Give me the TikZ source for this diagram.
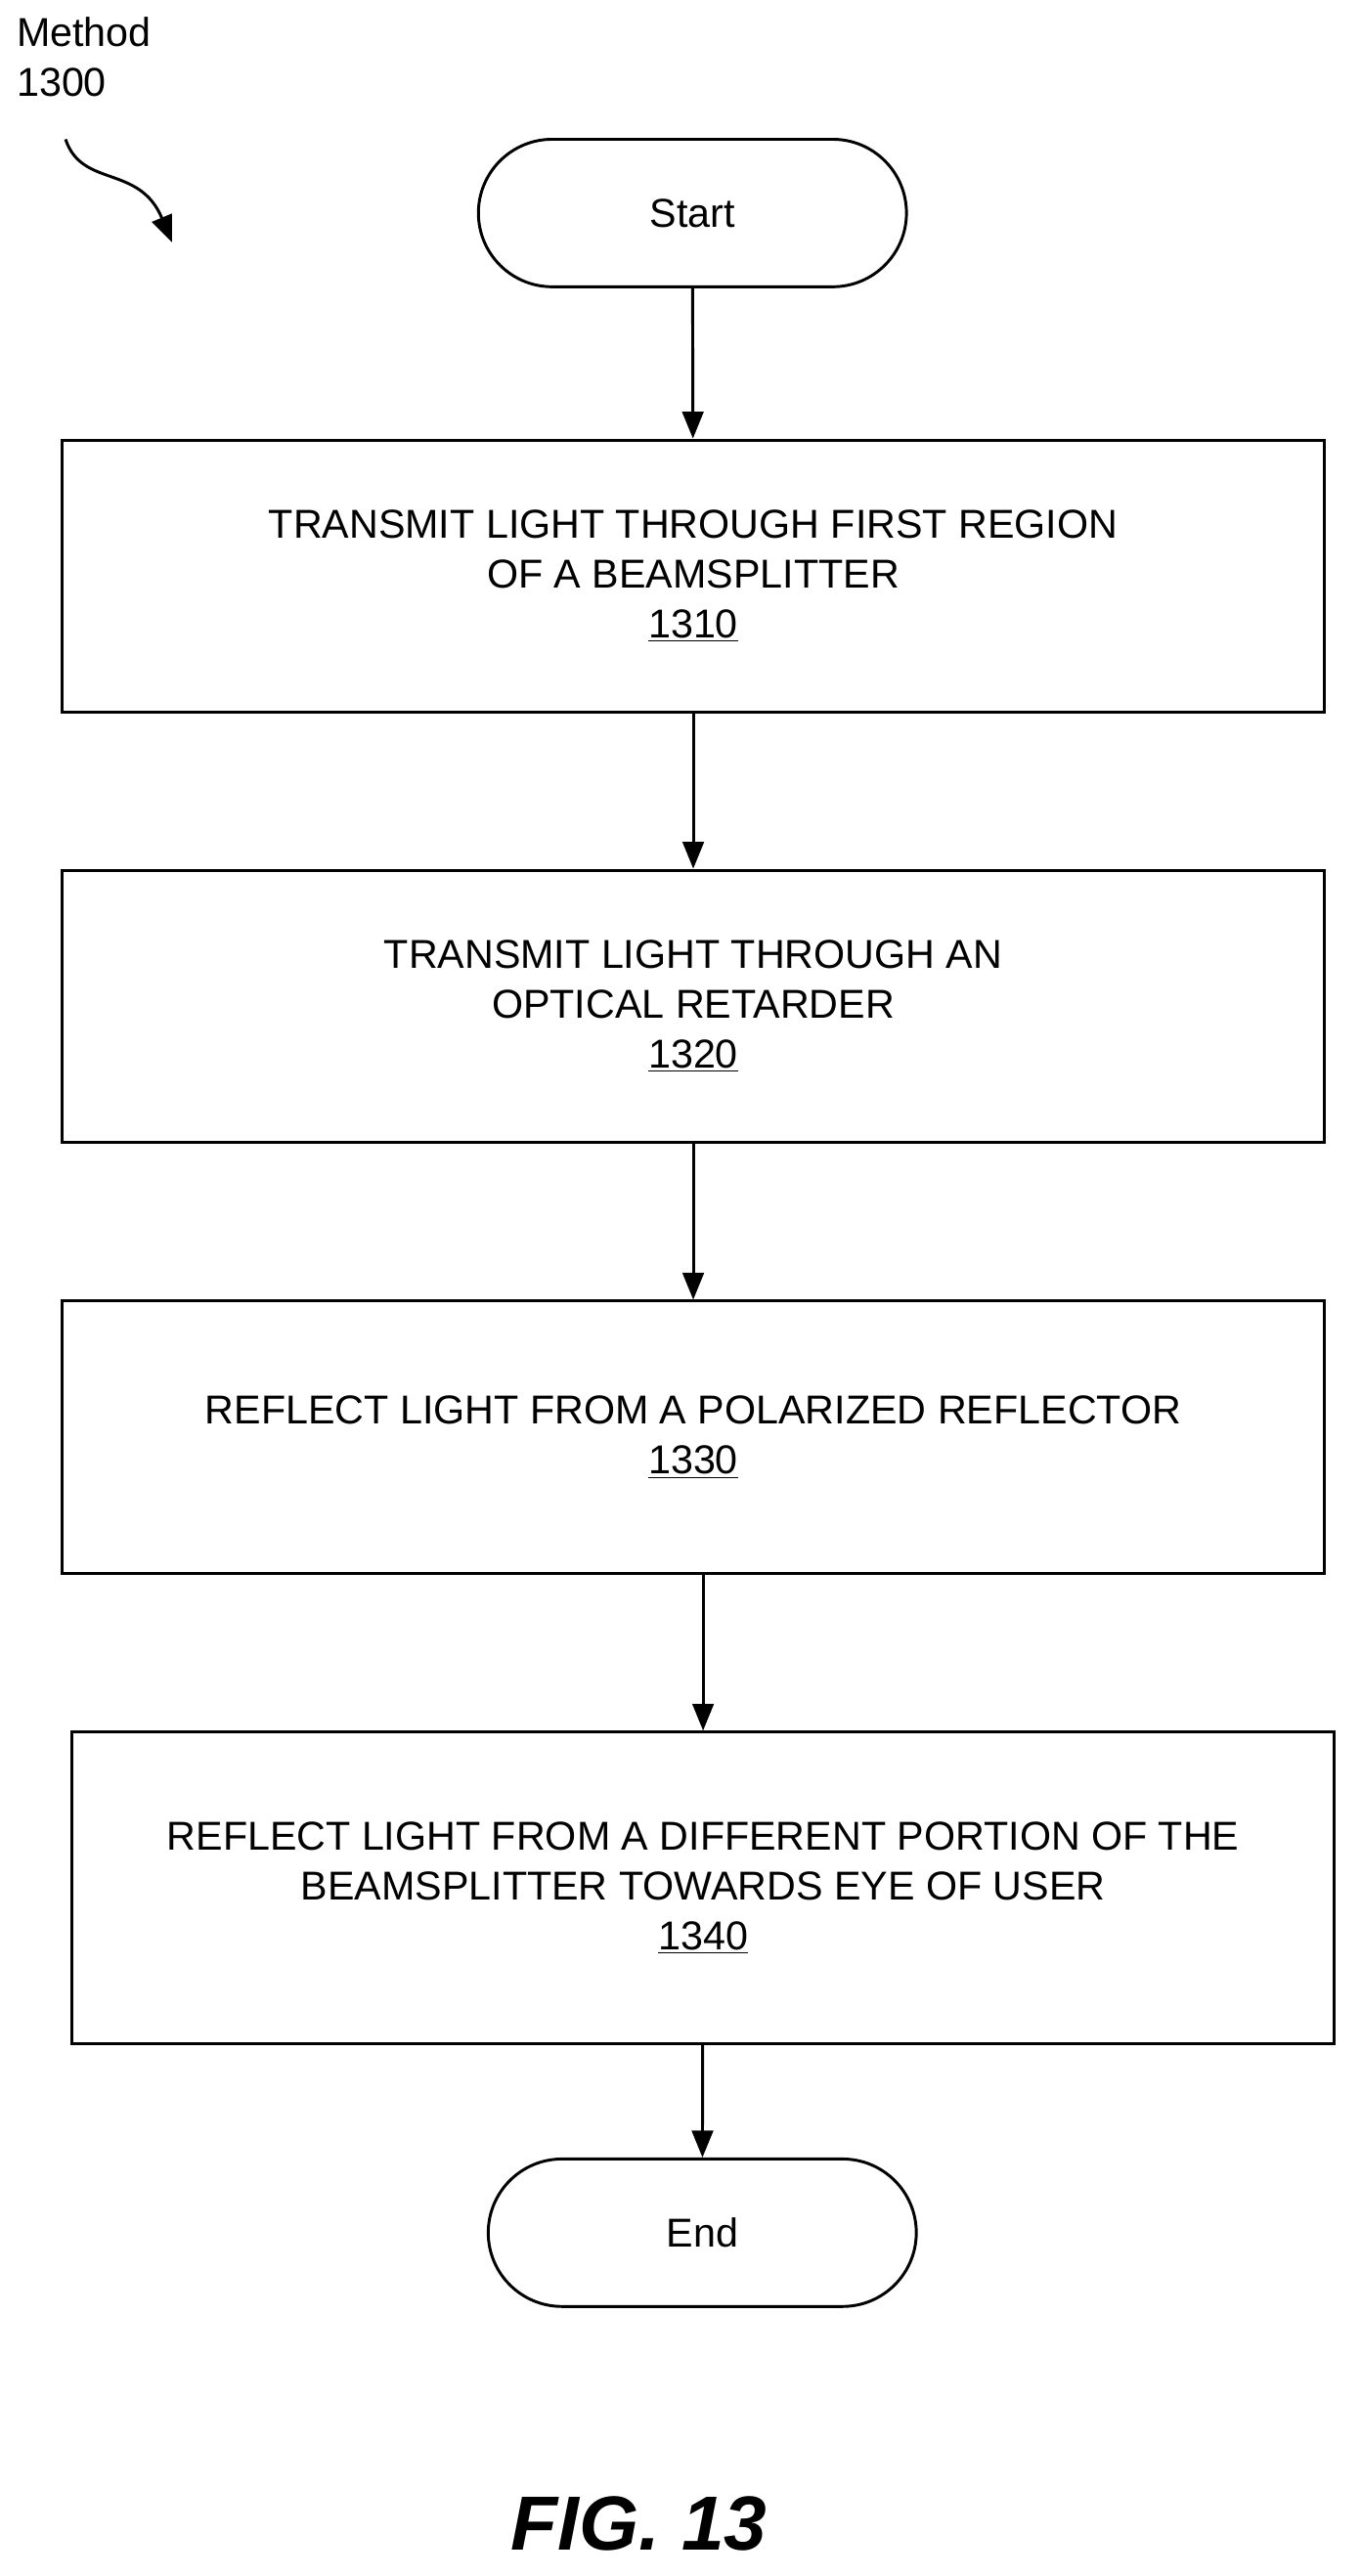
\documentclass[tikz,border=0pt]{standalone}
\usepackage{fontspec}
\setmainfont{Liberation Sans}
\usetikzlibrary{arrows.meta,shapes.misc}
\begin{document}
\begin{tikzpicture}[x=0.03cm,y=-0.03cm,
  every node/.style={font=\fontsize{21}{26}\selectfont},
  box/.style={draw,line width=1.5pt,minimum width=770*0.03cm,minimum height=166*0.03cm,align=center,inner sep=0pt},
  term/.style={draw,line width=1.5pt,rounded rectangle,minimum width=269*0.03cm,minimum height=90*0.03cm},
  arr/.style={-{Triangle[length=14pt,width=11pt]},line width=1.5pt}]
\useasboundingbox (0,0) rectangle (830,1572);
\node[term] (s) at (422.5,130) {Start};
\node[box] (b1) at (423,351.5) {TRANSMIT LIGHT THROUGH FIRST REGION\\OF A BEAMSPLITTER\\\underline{1310}};
\node[box] (b2) at (423,614) {TRANSMIT LIGHT THROUGH AN\\OPTICAL RETARDER\\\underline{1320}};
\node[box] (b3) at (423,877) {REFLECT LIGHT FROM A POLARIZED REFLECTOR\\\underline{1330}};
\node[box,minimum height=190*0.03cm] (b4) at (429,1152) {REFLECT LIGHT FROM A DIFFERENT PORTION OF THE\\BEAMSPLITTER TOWARDS EYE OF USER\\\underline{1340}};
\node[term] (e) at (428.5,1362.5) {End};
\draw[arr] (s) -- (b1);
\draw[arr] (b1) -- (b2);
\draw[arr] (b2) -- (b3);
\draw[arr] (b3.south -| b4) -- (b4);
\draw[arr] (b4) -- (e);
\node[anchor=north west,align=left,inner sep=0pt] (m) at (10,10) {Method\\1300};
\coordinate (c1) at (40,85);
\coordinate (c2) at (105,148);
\draw[arr] (c1) .. controls (50,115) and (85,100) .. (c2);
\node[font=\fontsize{40}{48}\selectfont\bfseries\itshape] (f) at (390,1540) {FIG. 13};
\end{tikzpicture}
\end{document}
